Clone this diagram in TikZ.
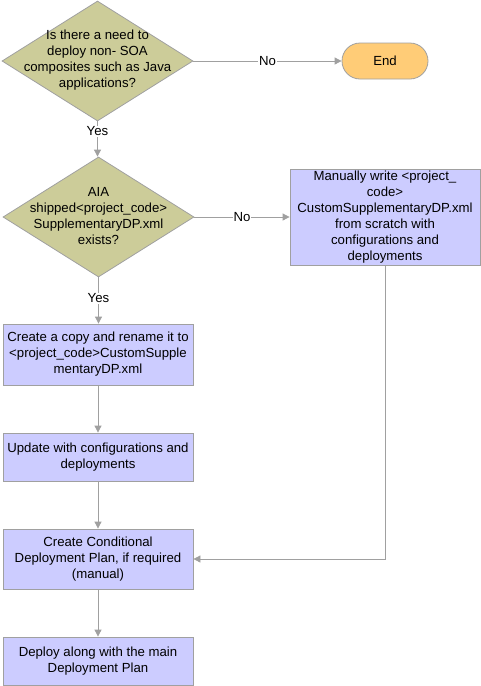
\documentclass[tikz,border=0pt]{standalone}
\usepackage{fontspec}
\setmainfont{Liberation Sans}
\usetikzlibrary{shapes.geometric,arrows.meta}
\definecolor{linegray}{HTML}{A0A0A0}
\definecolor{olivefill}{HTML}{CCCC99}
\definecolor{boxblue}{HTML}{CCCCFF}
\definecolor{endfill}{HTML}{FFCC77}
\tikzset{
  txt/.style={font=\fontsize{13.2pt}{16pt}\selectfont, align=center, inner sep=0pt},
  decision/.style={diamond, draw=linegray, fill=olivefill, line width=0.8pt, minimum width=191pt, minimum height=120pt, inner sep=0pt},
  process/.style={rectangle, draw=linegray, fill=boxblue, line width=0.8pt, minimum width=190pt, txt},
  terminal/.style={rectangle, rounded corners=18pt, draw=linegray, fill=endfill, line width=0.8pt, minimum width=86pt, minimum height=36pt, txt},
  flow/.style={draw=linegray, line width=0.8pt, -{Triangle[length=7pt,width=7pt]}},
  lbl/.style={txt, fill=white, inner sep=1pt}
}
\begin{document}
\begin{tikzpicture}[x=1pt,y=1pt]
\useasboundingbox (0,0) rectangle (481,-686);
\node[decision] (d1) at (97.5,-61) {};
\node[txt] (d1t) at (97.5,-60) {Is there a need to\\deploy non- SOA\\composites such as Java\\applications?};
\node[terminal] (end) at (385,-61) {End};
\node[decision] (d2) at (98.5,-217) {};
\node[txt] (d2t) at (98.5,-216) {AIA\\shipped<project\_code>\\SupplementaryDP.xml\\exists?};
\node[process, minimum height=96pt] (man) at (385,-217) {Manually write <project\_\\code>\\CustomSupplementaryDP.xml\\from scratch with\\configurations and\\deployments};
\node[process, minimum height=61pt] (b1) at (98,-354.5) {Create a copy and rename it to\\<project\_code>CustomSupple\\mentaryDP.xml};
\node[process, minimum height=48pt] (b2) at (98,-457) {Update with configurations and\\deployments};
\node[process, minimum height=60pt] (b3) at (98,-559) {Create Conditional\\Deployment Plan, if required\\(manual)};
\node[process, minimum height=48pt] (b4) at (98,-661) {Deploy along with the main\\Deployment Plan};

\draw[flow] (d1.east) -- node[lbl] (no1) {No} (end.west);
\draw[flow] (d1.south) -- node[lbl, pos=0.28] (yes1) {Yes} (d1.south |- d2.north);
\draw[flow] (d2.east) -- node[lbl] (no2) {No} (man.west);
\draw[flow] (d2.south) -- node[lbl, pos=0.45] (yes2) {Yes} (d2.south |- b1.north);
\draw[flow] (b1.south) -- (b2.north);
\draw[flow] (b2.south) -- (b3.north);
\draw[flow] (b3.south) -- (b4.north);
\draw[flow] (man.south) |- (b3.east);
\end{tikzpicture}
\end{document}
